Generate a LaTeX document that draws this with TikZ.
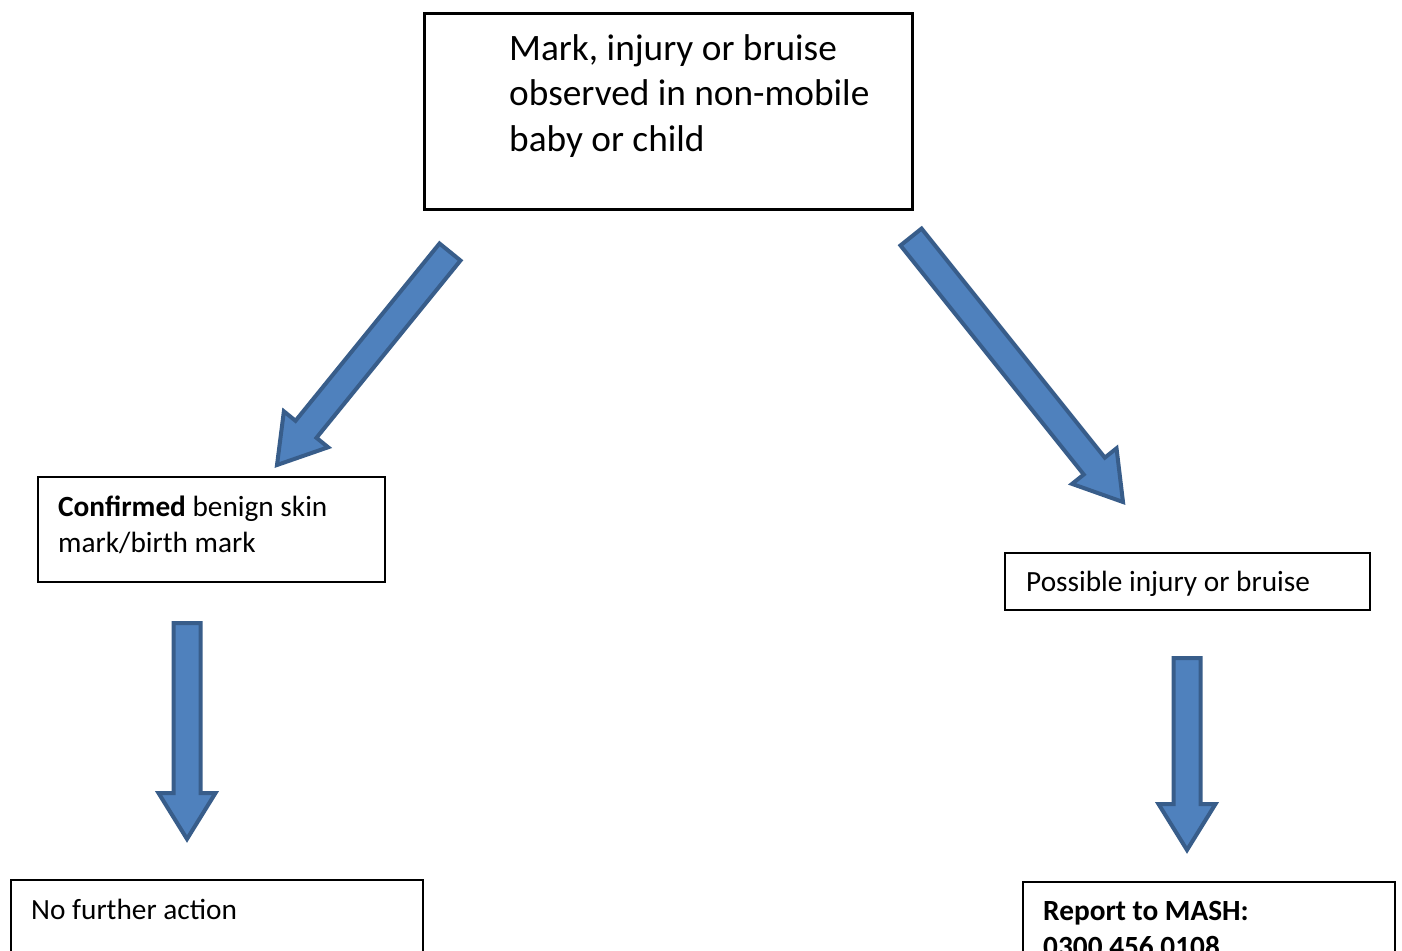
\documentclass[tikz,border=0pt]{standalone}
\usepackage{fontspec}
\setmainfont{Carlito}
\usetikzlibrary{positioning, calc}

\definecolor{arrowfill}{HTML}{4F81BD}
\definecolor{arrowline}{HTML}{385D8A}

\newcommand{\blockarrow}[2]{%
  \coordinate (hb) at ($(#2)!46pt!(#1)$);
  \draw[bigarrow] ($(#1)!13.5pt!90:(#2)$) -- ($(hb)!13.5pt!90:(#2)$) -- ($(hb)!28.5pt!90:(#2)$) -- (#2)
    -- ($(hb)!28.5pt!-90:(#2)$) -- ($(hb)!13.5pt!-90:(#2)$) -- ($(#1)!13.5pt!-90:(#2)$) -- cycle;}

\begin{document}
\begin{tikzpicture}[x=1pt, y=-1pt,
    box/.style={draw, line width=1.5pt, anchor=north west, inner sep=0pt},
    txt/.style={anchor=north west, inner sep=0pt, align=left, font=\fontsize{29.3}{36}\selectfont},
    bigarrow/.style={fill=arrowfill, draw=arrowline, line width=4pt, line join=miter}]
        \path[use as bounding box, clip] (0,0) rectangle (1402,950);

        \node[box, line width=3pt, minimum width=488pt, minimum height=196pt] (obs) at (423,12) {};
        \node[txt, font=\fontsize{37.3}{45.5}\selectfont, below right=22pt and 86pt of obs.north west] (obs-t) {Mark, injury or bruise\\observed in non-mobile\\baby or child};

        \node[box, minimum width=347pt, minimum height=105pt] (benign) at (37,476) {};
        \node[txt, below right=19.5pt and 21pt of benign.north west] (benign-t) {\textbf{Confirmed} benign skin\\mark/birth mark};

        \node[box, minimum width=365pt, minimum height=57pt] (possible) at (1004,552) {};
        \node[txt, below right=19pt and 22pt of possible.north west] (possible-t) {Possible injury or bruise};

        \node[box, minimum width=412pt, minimum height=110pt] (nfa) at (10,879) {};
        \node[txt, below right=20pt and 21pt of nfa.north west] (nfa-t) {No further action};

        \node[box, minimum width=372pt, minimum height=110pt] (mash) at (1022,881) {};
        \node[txt, below right=20pt and 21pt of mash.north west] (mash-t) {\textbf{Report to MASH:}\\\textbf{0300 456 0108}};

        \coordinate (a1s) at (450,252);
        \coordinate (a1e) at (277,465);
        \coordinate (a2s) at (911,237);
        \coordinate (a2e) at (1123,502);
        \coordinate (a3s) at (187,623);
        \coordinate (a3e) at (187,839);
        \coordinate (a4s) at (1187,658);
        \coordinate (a4e) at (1187,850);

        \blockarrow{a1s}{a1e}
        \blockarrow{a2s}{a2e}
        \blockarrow{a3s}{a3e}
        \blockarrow{a4s}{a4e}
    \end{tikzpicture}
\end{document}
